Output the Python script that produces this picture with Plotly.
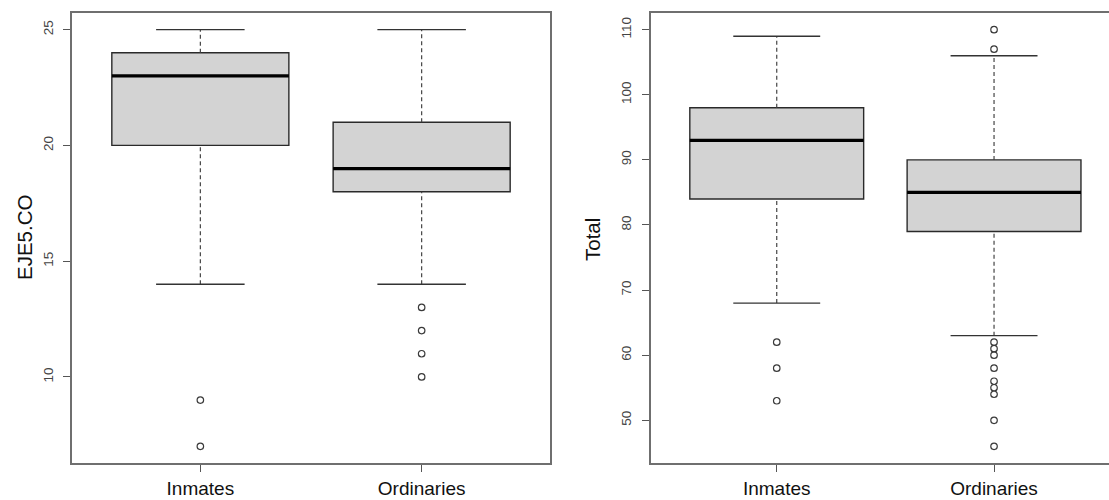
import plotly.graph_objects as go

# Group labels and their positions on the x axis
groups = ["Inmates", "Ordinaries"]
positions = [1, 2]

# EJE5.CO summary statistics per group
eje_q1 = [20, 18]
eje_median = [23, 19]
eje_q3 = [24, 21]
eje_low = [14, 14]
eje_high = [25, 25]
eje_outliers = [[9, 7], [13, 12, 11, 10]]

# Total score summary statistics per group
tot_q1 = [84, 79]
tot_median = [93, 85]
tot_q3 = [98, 90]
tot_low = [68, 63]
tot_high = [109, 106]
tot_outliers = [[62, 58, 53], [110, 107, 62, 61, 60, 58, 56, 55, 54, 50, 46]]

BOX_W = 0.8
STAPLE_HALF = 0.2
FONT = "Liberation Sans, Arial, sans-serif"
FRAME = "#6f6f6f"

fig = go.Figure()


def add_panel(xa, ya, q1, med, q3, low, high, outs):
    # box body (whiskers drawn separately so they can be dashed)
    fig.add_trace(go.Box(
        x=positions, q1=q1, median=med, q3=q3, lowerfence=q1, upperfence=q3,
        width=BOX_W, fillcolor="#d3d3d3", line=dict(color="#2a2a2a", width=1.4),
        boxpoints=False, whiskerwidth=0, hoverinfo="skip",
        xaxis=xa, yaxis=ya, showlegend=False))
    # thick median bars
    mx, my = [], []
    for p, m in zip(positions, med):
        mx += [p - BOX_W / 2, p + BOX_W / 2, None]
        my += [m, m, None]
    fig.add_trace(go.Scatter(x=mx, y=my, mode="lines",
                             line=dict(color="#000000", width=3.2),
                             xaxis=xa, yaxis=ya, showlegend=False, hoverinfo="skip"))
    # dashed whiskers
    wx, wy = [], []
    for p, a, b, lo, hi in zip(positions, q1, q3, low, high):
        wx += [p, p, None, p, p, None]
        wy += [b, hi, None, lo, a, None]
    fig.add_trace(go.Scatter(x=wx, y=wy, mode="lines",
                             line=dict(color="#444444", width=1.2, dash="4px,3px"),
                             xaxis=xa, yaxis=ya, showlegend=False, hoverinfo="skip"))
    # staples
    sx, sy = [], []
    for p, lo, hi in zip(positions, low, high):
        for v in (lo, hi):
            sx += [p - STAPLE_HALF, p + STAPLE_HALF, None]
            sy += [v, v, None]
    fig.add_trace(go.Scatter(x=sx, y=sy, mode="lines",
                             line=dict(color="#333333", width=1.4),
                             xaxis=xa, yaxis=ya, showlegend=False, hoverinfo="skip"))
    # outliers
    ox, oy = [], []
    for p, vals in zip(positions, outs):
        ox += [p] * len(vals)
        oy += vals
    fig.add_trace(go.Scatter(x=ox, y=oy, mode="markers",
                             marker=dict(symbol="circle-open", size=6.5,
                                         color="#3a3a3a", line=dict(width=1.2)),
                             xaxis=xa, yaxis=ya, showlegend=False, hoverinfo="skip"))


add_panel("x", "y", eje_q1, eje_median, eje_q3, eje_low, eje_high, eje_outliers)
add_panel("x2", "y2", tot_q1, tot_median, tot_q3, tot_low, tot_high, tot_outliers)

W, H = 1109, 500
ydom = [1 - 463 / H, 1 - 13 / H]

xcommon = dict(tickvals=positions, ticktext=groups, showgrid=False, zeroline=False,
               showline=True, linecolor=FRAME, linewidth=2, mirror=True,
               ticks="outside", ticklen=7, tickcolor="#555555", tickwidth=1.3,
               tickfont=dict(family=FONT, size=19, color="#111111"))
ycommon = dict(showgrid=False, zeroline=False, showline=True, linecolor=FRAME,
               linewidth=2, ticks="outside", ticklen=7, tickcolor="#555555",
               tickwidth=1.3, tickangle=-90, ticklabelstandoff=5,
               tickfont=dict(family=FONT, size=13.5, color="#444444"))

fig.update_layout(
    width=W, height=H, margin=dict(l=0, r=0, t=0, b=0),
    paper_bgcolor="white", plot_bgcolor="white",
    xaxis=dict(domain=[72 / W, 550 / W], range=[0.42, 2.58], anchor="y", **xcommon),
    yaxis=dict(domain=ydom, range=[6.28, 25.72], tickvals=[10, 15, 20, 25],
               anchor="x", mirror=True, **ycommon),
    xaxis2=dict(domain=[650.7 / W, 1.0], range=[0.42, 2.529], anchor="y2", **xcommon),
    yaxis2=dict(domain=ydom, range=[43.44, 112.56], tickvals=[50, 60, 70, 80, 90, 100, 110],
                anchor="x2", mirror=False, **ycommon),
    annotations=[
        dict(text="EJE5.CO", x=24 / W, y=1 - 238 / H, xref="paper", yref="paper",
             textangle=-90, showarrow=False, xanchor="center", yanchor="middle",
             font=dict(family=FONT, size=20.5, color="#111111")),
        dict(text="Total", x=592 / W, y=1 - 240 / H, xref="paper", yref="paper",
             textangle=-90, showarrow=False, xanchor="center", yanchor="middle",
             font=dict(family=FONT, size=20.5, color="#111111")),
    ],
)

fig.write_html("out.html")
